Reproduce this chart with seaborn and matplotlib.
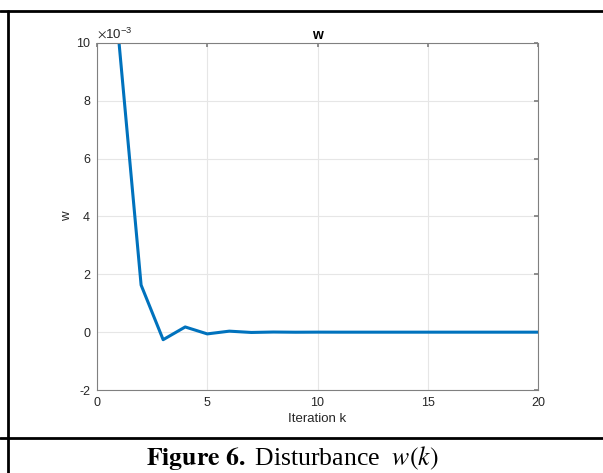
import matplotlib
matplotlib.use("Agg")
import matplotlib.pyplot as plt
import matplotlib.ticker as mticker
from matplotlib.lines import Line2D
import numpy as np
import pandas as pd
import seaborn as sns

# -- Data (units of 1e-3) ---------------------------------------------------
k = list(range(1, 21))
w_milli = [10.0, 1.63, -0.26, 0.18, -0.06, 0.035, -0.01, 0.005, -0.002, 0.001,
           0.0, 0.0, 0.0, 0.0, 0.0, 0.0, 0.0, 0.0, 0.0, 0.0]
data = pd.DataFrame({"k": k, "w": np.array(w_milli) * 1e-3})

# -- Style ------------------------------------------------------------------
sns.set_theme(style="whitegrid")
plt.rcParams["font.family"] = ["Liberation Sans", "DejaVu Sans"]
plt.rcParams["mathtext.fontset"] = "stix"
plt.rcParams["axes.unicode_minus"] = False
axis_grey = "#808080"
text_grey = "#262626"

fig = plt.figure(figsize=(6.03, 4.73), dpi=100)
ax = fig.add_axes([97 / 603, 1 - 390 / 473, 441 / 603, 347 / 473])

sns.lineplot(data=data, x="k", y="w", color="#0072BD", linewidth=2.2, ax=ax)

ax.set_xlim(0, 20)
ax.set_ylim(-2e-3, 10e-3)
ax.set_xticks([0, 5, 10, 15, 20])
ax.set_yticks(np.arange(-2, 11, 2) * 1e-3)
# tick labels in units of 1e-3, multiplier drawn above the axis like MATLAB
ax.yaxis.set_major_formatter(mticker.FuncFormatter(lambda v, p: f"{v * 1e3:g}"))
ax.text(0.0, 1.008, r"$\times\mathregular{10^{-3}}$", transform=ax.transAxes,
        ha="left", va="bottom", fontsize=9.5, color=text_grey,
        family=["Liberation Sans", "DejaVu Sans"])

ax.grid(True, color="#e6e6e6", linewidth=0.8)
for s in ax.spines.values():
    s.set_color(axis_grey)
    s.set_linewidth(0.8)
ax.tick_params(axis="both", labelsize=9, colors=text_grey, length=3,
               direction="in", pad=5, color=axis_grey)
ax.tick_params(top=True, right=True, labeltop=False, labelright=False)

ax.set_xlabel("Iteration k", fontsize=9.5, color=text_grey, labelpad=3)
ax.set_ylabel("w", fontsize=9.5, color=text_grey, labelpad=2)
ax.set_title("w", fontsize=10, fontweight="bold", color="black", pad=3)

# -- Table borders and caption ---------------------------------------------
lw = 2.0
fig.add_artist(Line2D([0, 1], [1 - 11 / 473] * 2, color="black", lw=lw))
fig.add_artist(Line2D([0, 1], [1 - 438 / 473] * 2, color="black", lw=lw))
fig.add_artist(Line2D([8 / 603] * 2, [0, 1 - 11 / 473], color="black", lw=lw))

fig.text(292 / 603, 1 - 458 / 473,
         r"$\mathbf{Figure\ 6.}$ Disturbance  $w(k)$",
         ha="center", va="center", fontsize=18.5,
         family=["Liberation Serif", "DejaVu Serif"], color="black")

fig.savefig("out.png", dpi=100)
